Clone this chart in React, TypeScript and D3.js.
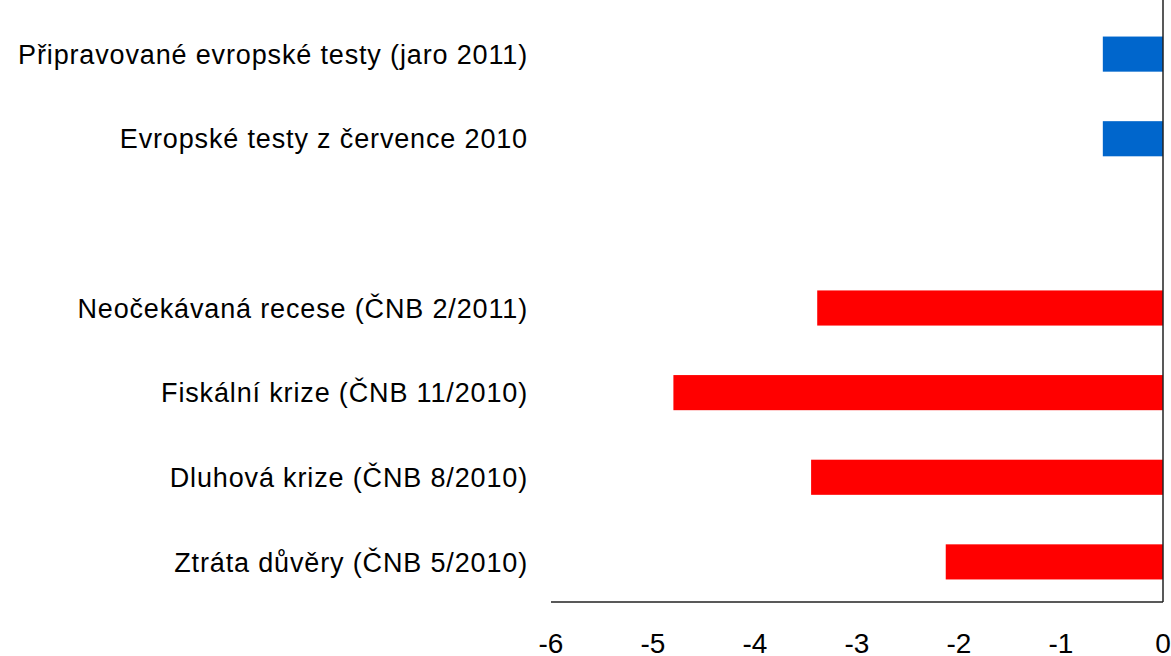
import { useEffect, useRef } from "react";
import * as d3 from "d3";

const W = 1171;
const H = 656;

// top to bottom; empty string is the gap row
const categories = [
  "Připravované evropské testy (jaro 2011)",
  "Evropské testy z července 2010",
  "",
  "Neočekávaná recese (ČNB 2/2011)",
  "Fiskální krize (ČNB 11/2010)",
  "Dluhová krize (ČNB 8/2010)",
  "Ztráta důvěry (ČNB 5/2010)",
];
const values = [-0.59, -0.59, null, -3.39, -4.8, -3.45, -2.13];
const barColors = ["#0066cc", "#0066cc", null, "#ff0000", "#ff0000", "#ff0000", "#ff0000"];
const xTicks = [-6, -5, -4, -3, -2, -1, 0];

const App = () => {
  const svgRef = useRef<SVGSVGElement>(null);

  useEffect(() => {
    const svg = d3.select(svgRef.current);
    svg.selectAll("*").remove();

    const x = d3.scaleLinear().domain([-6, 0]).range([551, 1163]);
    const y = d3
      .scaleBand()
      .domain(categories.map((c, i) => String(i)))
      .range([12, 604])
      .paddingInner(0.585)
      .paddingOuter(0.29);

    const font = "'Liberation Sans', Arial, sans-serif";

    const rows = categories.map((c, i) => ({ c, v: values[i], col: barColors[i], k: String(i) }));

    svg
      .selectAll("rect.bar")
      .data(rows.filter((d) => d.v !== null))
      .join("rect")
      .attr("class", "bar")
      .attr("x", (d) => x(d.v as number))
      .attr("y", (d) => y(d.k)!)
      .attr("width", (d) => x(0) - x(d.v as number))
      .attr("height", y.bandwidth())
      .attr("fill", (d) => d.col as string);

    // category labels
    svg
      .selectAll("text.cat")
      .data(rows.filter((d) => d.c !== ""))
      .join("text")
      .attr("class", "cat")
      .attr("x", 528)
      .attr("y", (d) => y(d.k)! + y.bandwidth() / 2)
      .attr("dy", "0.36em")
      .attr("text-anchor", "end")
      .attr("font-family", font)
      .attr("font-size", 27)
      .attr("letter-spacing", 0.85)
      .attr("fill", "#000")
      .text((d) => d.c);

    // value axis line at bottom
    svg
      .append("line")
      .attr("x1", 551)
      .attr("x2", x(0))
      .attr("y1", 602)
      .attr("y2", 602)
      .attr("stroke", "#222")
      .attr("stroke-width", 1.5);

    // category axis at zero
    svg
      .append("line")
      .attr("x1", x(0))
      .attr("x2", x(0))
      .attr("y1", 0)
      .attr("y2", 602)
      .attr("stroke", "#222")
      .attr("stroke-width", 1.5);

    svg
      .selectAll("text.tick")
      .data(xTicks)
      .join("text")
      .attr("class", "tick")
      .attr("x", (d) => x(d))
      .attr("y", 653)
      .attr("text-anchor", "middle")
      .attr("font-family", font)
      .attr("font-size", 28)
      .attr("fill", "#000")
      .text((d) => String(d));
  }, []);

  return (
    <div style={{ position: "fixed", left: 0, top: 0, width: W, height: H, background: "#fff" }}>
      <svg ref={svgRef} width={W} height={H} style={{ display: "block" }}></svg>
    </div>
  );
};

export default App;
